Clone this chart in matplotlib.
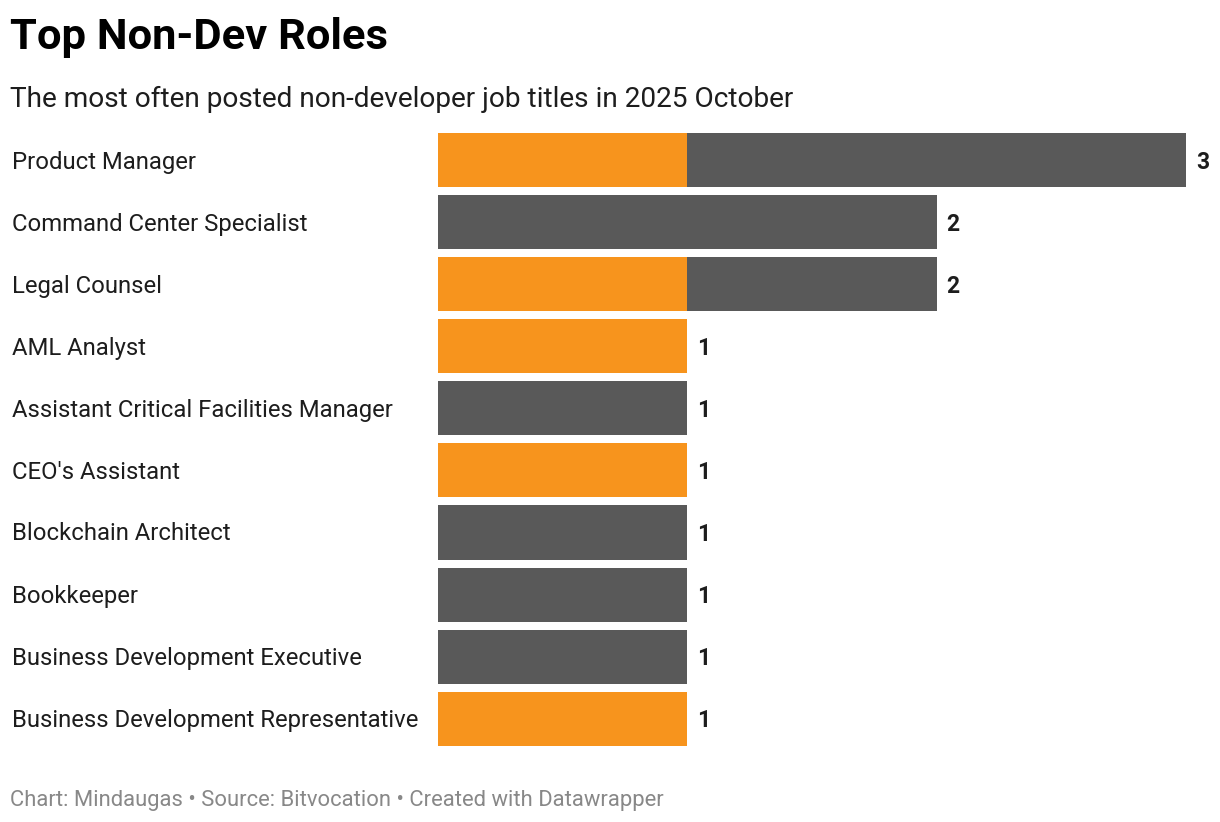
import matplotlib
matplotlib.use('Agg')
import matplotlib.pyplot as plt

plt.rcParams['font.family'] = ['Roboto', 'DejaVu Sans']

# data
roles = ['Product Manager', 'Command Center Specialist', 'Legal Counsel', 'AML Analyst',
         'Assistant Critical Facilities Manager', "CEO's Assistant", 'Blockchain Architect',
         'Bookkeeper', 'Business Development Executive', 'Business Development Representative']
orange_part = [1, 0, 1, 1, 0, 1, 0, 0, 0, 1]
gray_part = [2, 2, 1, 0, 1, 0, 1, 1, 1, 0]
totals = [o + g for o, g in zip(orange_part, gray_part)]

W, H = 1220, 822
fig = plt.figure(figsize=(W / 100, H / 100), dpi=100)
fig.patch.set_facecolor('white')

# axes placed in pixel coords: bars start at x=438, one unit ~ 249 px, row pitch 62 px
unit = 249.3
ax = fig.add_axes([438 / W, (H - 749.5) / H, 782 / W, 620 / H])
ax.set_xlim(0, 782 / unit)
ax.set_ylim(len(roles) - 0.5, -0.5)
ax.axis('off')

y = list(range(len(roles)))
bh = 54 / 62
ax.barh(y, orange_part, height=bh, color='#f7941d', linewidth=0)
ax.barh(y, gray_part, left=orange_part, height=bh, color='#595959', linewidth=0)

for i, t in enumerate(totals):
    ax.text(t + 10 / unit, i + 2 / 62, str(t), ha='left', va='center', fontsize=16.5,
            fontweight='bold', color='#1d1d1d')

for i, r in enumerate(roles):
    fig.text(12 / W, 1 - (162 + 62 * i) / H, r, ha='left', va='center',
             fontsize=17.2, color='#1d1d1d')

fig.text(10 / W, 1 - 38 / H, 'Top Non-Dev Roles', ha='left', va='center',
         fontsize=31.3, fontweight='bold', color='#000000')
fig.text(10 / W, 1 - 99 / H, 'The most often posted non-developer job titles in 2025 October',
         ha='left', va='center', fontsize=20.2, color='#1d1d1d')
fig.text(10 / W, 1 - 800 / H, 'Chart: Mindaugas \u2022 Source: Bitvocation \u2022 Created with Datawrapper',
         ha='left', va='center', fontsize=15.8, color='#888888')

fig.savefig('out.png', dpi=100, facecolor='white')
